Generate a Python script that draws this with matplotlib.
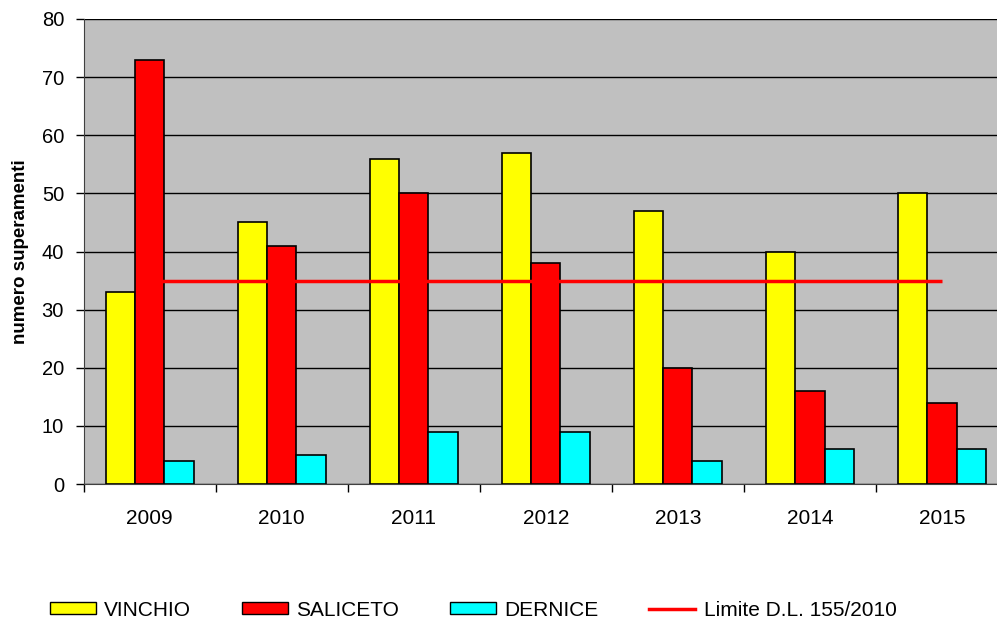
import numpy as np
import matplotlib
matplotlib.use("Agg")
import matplotlib.pyplot as plt
from matplotlib.patches import Patch
from matplotlib.lines import Line2D

plt.rcParams['font.family'] = ['Liberation Sans', 'DejaVu Sans']

anni = ['2009', '2010', '2011', '2012', '2013', '2014', '2015']
vinchio = [33, 45, 56, 57, 47, 40, 50]
saliceto = [73, 41, 50, 38, 20, 16, 14]
dernice = [4, 5, 9, 9, 4, 6, 6]
limite = [35, 35, 35, 35, 35, 35, 35]

fig = plt.figure(figsize=(9.97, 6.22), dpi=100)
W, H = 997, 622
ax = fig.add_axes([83.5 / W, (H - 484) / H, (1008 - 83.5) / W, (484 - 19) / H])
ax.set_facecolor('#C0C0C0')

x = np.arange(len(anni))
bw = 0.222
ax.bar(x - bw, vinchio, bw, color='#FFFF00', edgecolor='black', linewidth=1.2, zorder=3)
ax.bar(x, saliceto, bw, color='#FF0000', edgecolor='black', linewidth=1.2, zorder=3)
ax.bar(x + bw, dernice, bw, color='#00FFFF', edgecolor='black', linewidth=1.2, zorder=3)
ax.plot(x, limite, color='#FF0000', linewidth=2.5, zorder=4, solid_capstyle='butt')

ax.set_xlim(-0.5, 6.5)
ax.set_ylim(0, 80)
ax.set_yticks(range(0, 81, 10))
ax.yaxis.grid(True, color='black', linewidth=1)
ax.set_axisbelow(True)

ax.set_xticks(x)
ax.set_xticklabels(anni)
ax.set_xticks(np.arange(-0.5, 7, 1), minor=True)
ax.tick_params(axis='x', which='major', length=0, pad=18, labelsize=15)
ax.tick_params(axis='x', which='minor', length=6, width=1, direction='out')
ax.tick_params(axis='y', length=6, width=1, direction='out', labelsize=14.5, pad=8)

for s in ['top', 'right']:
    ax.spines[s].set_visible(False)
ax.spines['left'].set_color('#404040')
ax.spines['bottom'].set_color('#404040')

ax.set_ylabel('numero superamenti', fontsize=13.5, fontweight='bold', labelpad=9)

handles = [Patch(facecolor='#FFFF00', edgecolor='black'),
           Patch(facecolor='#FF0000', edgecolor='black'),
           Patch(facecolor='#00FFFF', edgecolor='black'),
           Line2D([0], [0], color='#FF0000', linewidth=2.5)]
labels = ['VINCHIO', 'SALICETO', 'DERNICE', 'Limite D.L. 155/2010']
fig.legend(handles, labels, loc='center', bbox_to_anchor=(0.4745, (H - 610) / H),
           ncol=4, frameon=False, fontsize=15, handlelength=2.2, handleheight=0.5,
           handletextpad=0.4, columnspacing=2.45)

fig.savefig('out.png', dpi=100)
